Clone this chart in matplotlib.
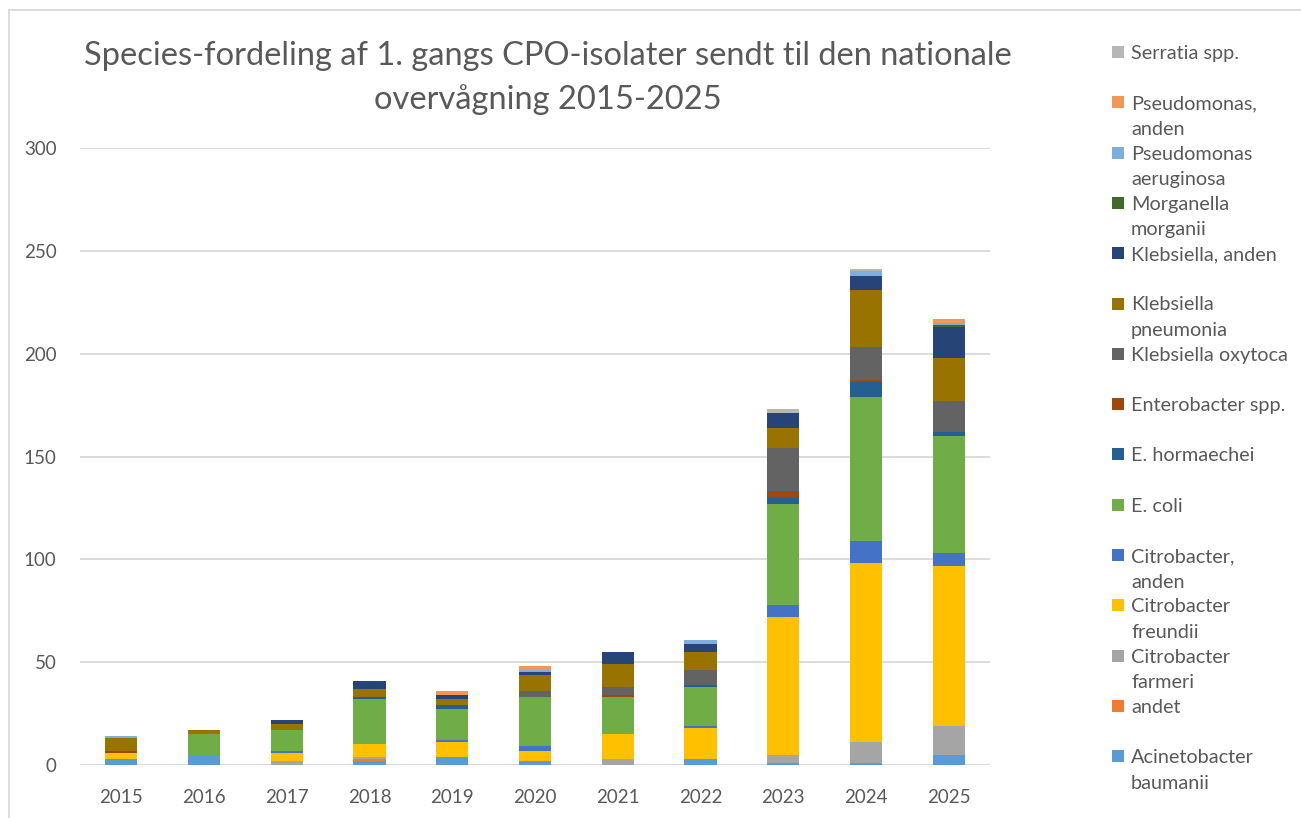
import matplotlib
matplotlib.use("Agg")
import matplotlib.pyplot as plt
from matplotlib.patches import Rectangle
from matplotlib.lines import Line2D
import numpy as np


YEARS = ["2015", "2016", "2017", "2018", "2019", "2020",
         "2021", "2022", "2023", "2024", "2025"]

# isolates per year, one list per species (stacked bottom to top)
acinetobacter = [3, 5, 0, 2, 4, 2, 0, 3, 1, 1, 5]
andet = [0, 0, 0, 1, 0, 0, 0, 0, 0, 0, 0]
cit_farmeri = [0, 0, 2, 1, 0, 0, 3, 0, 4, 10, 14]
cit_freundii = [3, 0, 4, 6, 7, 5, 12, 15, 67, 87, 78]
cit_anden = [0, 0, 1, 0, 1, 2, 0, 1, 6, 11, 6]
e_coli = [0, 10, 10, 22, 15, 24, 18, 19, 49, 70, 57]
e_hormaechei = [0, 0, 0, 1, 2, 0, 0, 1, 3, 7, 2]
enterobacter = [1, 0, 0, 0, 0, 0, 1, 0, 3, 1, 0]
kleb_oxytoca = [0, 0, 0, 0, 0, 3, 4, 7, 21, 16, 15]
kleb_pneumonia = [6, 2, 3, 4, 3, 8, 11, 9, 10, 28, 21]
kleb_anden = [0, 0, 2, 4, 2, 1, 6, 4, 7, 7, 15]
morganella = [0, 0, 0, 0, 0, 0, 0, 0, 0, 0, 1]
pseud_aeruginosa = [1, 0, 0, 0, 0, 1, 0, 2, 0, 2, 1]
pseud_anden = [0, 0, 0, 0, 2, 2, 0, 0, 0, 0, 2]
serratia = [0, 0, 0, 0, 0, 0, 0, 0, 2, 1, 0]

SERIES = [
    ("Acinetobacter\nbaumanii", acinetobacter, "#5B9BD5"),
    ("andet", andet, "#ED7D31"),
    ("Citrobacter\nfarmeri", cit_farmeri, "#A5A5A5"),
    ("Citrobacter\nfreundii", cit_freundii, "#FFC000"),
    ("Citrobacter,\nanden", cit_anden, "#4472C4"),
    ("E. coli", e_coli, "#70AD47"),
    ("E. hormaechei", e_hormaechei, "#255E91"),
    ("Enterobacter spp.", enterobacter, "#9E480E"),
    ("Klebsiella oxytoca", kleb_oxytoca, "#636363"),
    ("Klebsiella\npneumonia", kleb_pneumonia, "#997300"),
    ("Klebsiella, anden", kleb_anden, "#264478"),
    ("Morganella\nmorganii", morganella, "#43682B"),
    ("Pseudomonas\naeruginosa", pseud_aeruginosa, "#7CAFDD"),
    ("Pseudomonas,\nanden", pseud_anden, "#F1975A"),
    ("Serratia spp.", serratia, "#B7B7B7"),
]

TITLE = ("Species-fordeling af 1. gangs CPO-isolater sendt til den nationale\n"
         "overvågning 2015-2025")

W, H = 1301, 818
TEXT_GREY = "#595959"
FONT = ["Lato", "DejaVu Sans"]


def fx(px):
    return px / W


def fy(py):
    return 1 - py / H


fig = plt.figure(figsize=(W / 100, H / 100), dpi=100)
fig.patch.set_facecolor("white")

ax = fig.add_axes([fx(80), fy(765), fx(990) - fx(80), fy(148) - fy(765)])

x = np.arange(len(YEARS))
bottom = np.zeros(len(YEARS))
for label, values, color in SERIES:
    vals = np.array(values, dtype=float)
    ax.bar(x, vals, width=0.39, bottom=bottom, color=color,
           edgecolor="none", zorder=3)
    bottom += vals

ax.set_xlim(-0.5, len(YEARS) - 0.5)
ax.set_ylim(0, 300)
ax.set_yticks(range(0, 301, 50))
ax.set_xticks(x)
ax.set_xticklabels(YEARS)
ax.grid(axis="y", color="#D9D9D9", linewidth=1.3, zorder=0)
ax.set_axisbelow(True)
for spine in ax.spines.values():
    spine.set_visible(False)
ax.tick_params(axis="both", length=0, labelcolor=TEXT_GREY, labelsize=13.5)
ax.tick_params(axis="y", pad=17)
ax.tick_params(axis="x", pad=17)
for lab in ax.get_xticklabels() + ax.get_yticklabels():
    lab.set_family(FONT)

fig.text(fx(548), fy(78), TITLE, ha="center", va="center",
         fontsize=23.5, color=TEXT_GREY, family=FONT, linespacing=1.5)

# chart frame along the left and top edge
fig.add_artist(Line2D([fx(9), fx(9)], [fy(10), 0], color="#D9D9D9",
                      linewidth=1.3, transform=fig.transFigure))
fig.add_artist(Line2D([fx(9), 1], [fy(10), fy(10)], color="#D9D9D9",
                      linewidth=1.3, transform=fig.transFigure))

# legend, top entry = last stacked series
for i, (label, values, color) in enumerate(reversed(SERIES)):
    y0 = 52 + 50.3 * i
    fig.add_artist(Rectangle((fx(1112), fy(y0 + 6)), fx(12), 12 / H,
                             facecolor=color, edgecolor="none",
                             transform=fig.transFigure))
    for k, line in enumerate(label.split("\n")):
        fig.text(fx(1131), fy(y0 + 25.5 * k), line, ha="left",
                 va="center_baseline", fontsize=14.3, color=TEXT_GREY,
                 family=FONT)

fig.savefig("out.png", dpi=100)
